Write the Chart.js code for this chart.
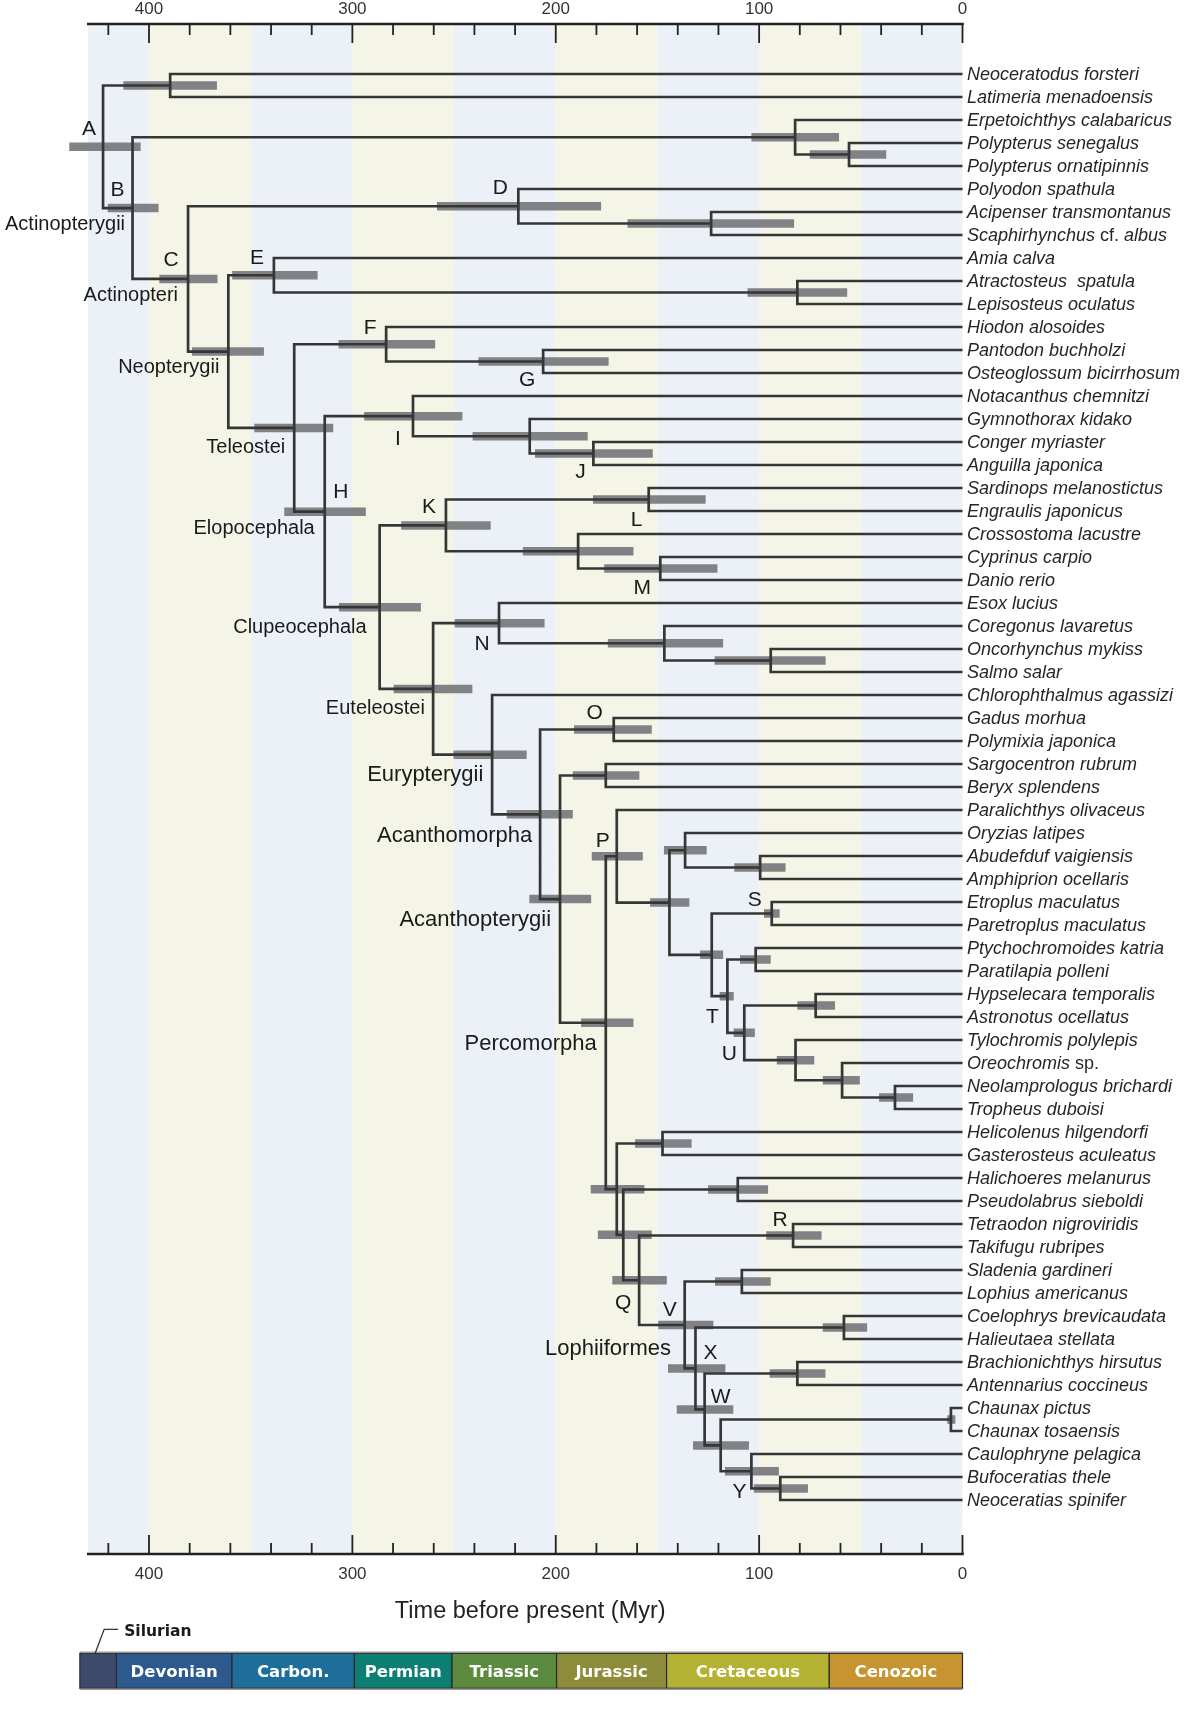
<!DOCTYPE html>
<html>
<head>
<meta charset="utf-8">
<script src="https://cdn.jsdelivr.net/npm/chart.js@4.4.1/dist/chart.umd.min.js"></script>
<style>
  html, body { margin: 0; padding: 0; background: #fff; }
  canvas { display: block; }
</style>
</head>
<body>
<canvas id="chart" width="1200" height="1718"></canvas>
<script>
// tips, top to bottom
const taxa = [
  'Neoceratodus forsteri', 'Latimeria menadoensis', 'Erpetoichthys calabaricus', 'Polypterus senegalus', 'Polypterus ornatipinnis',
  'Polyodon spathula', 'Acipenser transmontanus', 'Scaphirhynchus cf. albus', 'Amia calva', 'Atractosteus  spatula',
  'Lepisosteus oculatus', 'Hiodon alosoides', 'Pantodon buchholzi', 'Osteoglossum bicirrhosum', 'Notacanthus chemnitzi',
  'Gymnothorax kidako', 'Conger myriaster', 'Anguilla japonica', 'Sardinops melanostictus', 'Engraulis japonicus',
  'Crossostoma lacustre', 'Cyprinus carpio', 'Danio rerio', 'Esox lucius', 'Coregonus lavaretus',
  'Oncorhynchus mykiss', 'Salmo salar', 'Chlorophthalmus agassizi', 'Gadus morhua', 'Polymixia japonica',
  'Sargocentron rubrum', 'Beryx splendens', 'Paralichthys olivaceus', 'Oryzias latipes', 'Abudefduf vaigiensis',
  'Amphiprion ocellaris', 'Etroplus maculatus', 'Paretroplus maculatus', 'Ptychochromoides katria', 'Paratilapia polleni',
  'Hypselecara temporalis', 'Astronotus ocellatus', 'Tylochromis polylepis', 'Oreochromis sp.', 'Neolamprologus brichardi',
  'Tropheus duboisi', 'Helicolenus hilgendorfi', 'Gasterosteus aculeatus', 'Halichoeres melanurus', 'Pseudolabrus sieboldi',
  'Tetraodon nigroviridis', 'Takifugu rubripes', 'Sladenia gardineri', 'Lophius americanus', 'Coelophrys brevicaudata',
  'Halieutaea stellata', 'Brachionichthys hirsutus', 'Antennarius coccineus', 'Chaunax pictus', 'Chaunax tosaensis',
  'Caulophryne pelagica', 'Bufoceratias thele', 'Neoceratias spinifer'
];

// [node, child 1, child 2, age (Myr), interval old end, interval young end]
// a child is a tip index or another node
const nodes = [
  ['sarc', 0, 1, 389.6, 412.6, 366.6],
  ['poly2', 3, 4, 55.8, 75.1, 37.5],
  ['poly', 2, 'poly2', 82.3, 103.8, 60.7],
  ['acip', 6, 7, 123.6, 164.7, 82.8],
  ['D', 5, 'acip', 218.4, 258.4, 177.7],
  ['lepi', 9, 10, 81.2, 105.7, 56.7],
  ['E', 8, 'lepi', 338.6, 359.1, 317.1],
  ['G', 12, 13, 206.2, 238.0, 174.0],
  ['F', 11, 'G', 283.4, 306.8, 259.3],
  ['J', 16, 17, 181.5, 210.2, 152.3],
  ['eel', 15, 'J', 212.8, 240.9, 184.3],
  ['I', 14, 'eel', 270.2, 294.2, 245.9],
  ['L', 18, 19, 154.3, 181.7, 126.3],
  ['M', 21, 22, 148.6, 176.2, 120.5],
  ['cypr', 20, 'M', 189.0, 216.2, 161.8],
  ['K', 'L', 'cypr', 254.0, 276.0, 232.0],
  ['salm2', 25, 26, 94.3, 121.9, 67.3],
  ['salm', 24, 'salm2', 146.6, 174.4, 117.7],
  ['N', 23, 'salm', 227.9, 249.7, 205.5],
  ['O', 28, 29, 171.5, 191.0, 152.8],
  ['beryc', 30, 31, 175.4, 191.6, 158.9],
  ['pomac', 34, 35, 99.5, 112.2, 87.0],
  ['ory', 33, 'pomac', 136.4, 146.8, 125.8],
  ['S', 36, 37, 93.8, 97.6, 89.9],
  ['ptych', 38, 39, 101.7, 109.4, 94.3],
  ['cichla', 40, 41, 72.2, 81.2, 62.7],
  ['trop', 44, 45, 33.2, 41.0, 24.3],
  ['oreo', 43, 'trop', 59.2, 68.7, 50.5],
  ['tylo', 42, 'oreo', 82.1, 91.3, 72.9],
  ['U', 'cichla', 'tylo', 107.3, 112.5, 102.1],
  ['T', 'ptych', 'U', 115.6, 119.4, 112.5],
  ['cich', 'S', 'T', 123.3, 129.0, 117.7],
  ['ovalent', 'ory', 'cich', 144.1, 153.6, 134.3],
  ['P', 32, 'ovalent', 170.0, 182.3, 157.2],
  ['scorp', 46, 47, 147.5, 161.0, 133.2],
  ['labr', 48, 49, 110.5, 125.1, 95.6],
  ['R', 50, 51, 83.3, 96.5, 69.3],
  ['loph', 52, 53, 108.5, 121.7, 94.3],
  ['ogco', 54, 55, 58.3, 68.7, 46.9],
  ['anten', 56, 57, 81.2, 94.8, 67.4],
  ['chaun', 58, 59, 5.7, 7.5, 3.5],
  ['bufo', 61, 62, 89.6, 102.6, 76.0],
  ['Y', 60, 'bufo', 103.8, 116.8, 90.3],
  ['chauY', 'chaun', 'Y', 118.9, 132.5, 105.0],
  ['W', 'anten', 'chauY', 126.8, 140.5, 112.7],
  ['X', 'ogco', 'W', 131.3, 144.8, 116.6],
  ['V', 'loph', 'X', 136.6, 149.6, 122.5],
  ['Q', 'R', 'V', 159.0, 172.2, 145.4],
  ['labQ', 'labr', 'Q', 166.8, 179.3, 152.8],
  ['scoQ', 'scorp', 'labQ', 170.0, 182.8, 156.4],
  ['perco', 'P', 'scoQ', 175.4, 187.5, 161.8],
  ['acpt', 'beryc', 'perco', 197.9, 213.0, 182.6],
  ['acmo', 'O', 'acpt', 207.7, 224.1, 191.6],
  ['eury', 27, 'acmo', 231.3, 250.3, 214.3],
  ['eute', 'N', 'eury', 260.3, 279.7, 241.0],
  ['clup', 'K', 'eute', 286.6, 306.6, 266.3],
  ['H', 'I', 'clup', 313.6, 333.5, 293.4],
  ['tele', 'F', 'H', 328.6, 348.2, 309.4],
  ['neop', 'E', 'tele', 361.0, 378.9, 343.5],
  ['C', 'D', 'neop', 380.8, 394.9, 366.3],
  ['B', 'poly', 'C', 408.1, 420.3, 395.3],
  ['A', 'sarc', 'B', 422.6, 439.2, 404.1]
];

const nodeLetters = ['A', 'B', 'C', 'D', 'E', 'F', 'G', 'H', 'I', 'J', 'K', 'L', 'M',
  'N', 'O', 'P', 'Q', 'R', 'S', 'T', 'U', 'V', 'W', 'X', 'Y'];

const cladeNames = {
  B: 'Actinopterygii', C: 'Actinopteri', neop: 'Neopterygii', tele: 'Teleostei',
  H: 'Elopocephala', clup: 'Clupeocephala', eute: 'Euteleostei', eury: 'Eurypterygii',
  acmo: 'Acanthomorpha', acpt: 'Acanthopterygii', perco: 'Percomorpha', V: 'Lophiiformes'
};

const tickValues = [420, 400, 380, 360, 340, 320, 300, 280, 260, 240, 220, 200, 180, 160, 140, 120, 100, 80, 60, 40, 20, 0];
const tickLabels = [400, 300, 200, 100, 0];
const bandEdges = [430, 400, 350, 300, 250, 200, 150, 100, 50, 0];

const periods = ['Silurian', 'Devonian', 'Carbon.', 'Permian', 'Triassic', 'Jurassic', 'Cretaceous', 'Cenozoic'];
const periodStarts = [434, 416, 359.2, 299, 251, 199.6, 145.5, 65.5];

// layout and look
const letterOffset = {
  A: [-14, -19], B: [-15, -20], C: [-17, -20], D: [-18, -20], E: [-17, -19], F: [-16, -18], G: [-16, 17],
  H: [16, -21], I: [-15, 21], J: [-13, 17], K: [-17, -20], L: [-12, 19], M: [-18, 18], N: [-17, 19],
  O: [-19, -18], P: [-14, -17], Q: [-16, 21], R: [-13, -17], S: [-17, -15], T: [-15, 19], U: [-15, 20],
  V: [-15, -16], W: [16, -14], X: [15, -17], Y: [-12, 19]
};
const cladeOffset = {
  B: [-7.5, 14.4, 20], C: [-10, 15.3, 20], neop: [-9, 14.4, 20], tele: [-9, 17.6, 20],
  H: [-10, 15.6, 20], clup: [-13, 18.4, 20], eute: [-8.3, 18.4, 20], eury: [-8.8, 18.7, 22],
  acmo: [-7.8, 19.6, 22], acpt: [-9, 19.1, 22], perco: [-9.1, 19.5, 22], V: [-13.7, 21.7, 22]
};
const bandColors = ['#ecf1f7', '#f4f5e7'];
const periodColors = ['#3e4a6b', '#2c5a8e', '#1d6e9b', '#0d7e72', '#5c8a3e', '#8d8c39', '#b4b133', '#c7952f'];
const ink = '#333333';

// tree geometry
const nodeMap = {};
nodes.forEach(n => { nodeMap[n[0]] = { kids: [n[1], n[2]], age: n[3] }; });
function yOf(c) {
  if (typeof c === 'number') return c;
  const n = nodeMap[c];
  if (n.y === undefined) n.y = (yOf(n.kids[0]) + yOf(n.kids[1])) / 2;
  return n.y;
}
function ageOf(c) {
  return typeof c === 'number' ? 0 : nodeMap[c].age;
}

const branchData = [];
const barData = [];
nodes.forEach(([key, a, b, age, oldEnd, youngEnd]) => {
  branchData.push(
    { x: ageOf(a), y: yOf(a) }, { x: age, y: yOf(a) },
    { x: age, y: yOf(b) }, { x: ageOf(b), y: yOf(b) },
    { x: age, y: null }
  );
  const y = yOf(key);
  barData.push({ x: oldEnd, y: y }, { x: youngEnd, y: y }, { x: youngEnd, y: null });
});

function drawTaxon(ctx, name, x, y) {
  let cx = x;
  name.split(' ').forEach((w, k) => {
    const upright = w === 'cf.' || w === 'sp.';
    ctx.font = (upright ? '' : 'italic ') + '18px "Liberation Sans", Arial, sans-serif';
    const s = (k ? ' ' : '') + w;
    ctx.fillText(s, cx, y);
    cx += ctx.measureText(s).width;
  });
}

const decor = {
  id: 'decor',
  beforeDatasetsDraw(chart) {
    const { ctx, chartArea: area, scales: { x } } = chart;
    ctx.save();
    for (let k = 0; k < bandEdges.length - 1; k++) {
      const x0 = x.getPixelForValue(bandEdges[k]);
      const x1 = x.getPixelForValue(bandEdges[k + 1]);
      ctx.fillStyle = bandColors[k % 2];
      ctx.fillRect(x0, area.top, x1 - x0, area.bottom - area.top);
    }
    ctx.restore();
  },
  afterDatasetsDraw(chart) {
    const { ctx, chartArea: area, scales: { x, y } } = chart;
    ctx.save();

    // axes
    ctx.strokeStyle = '#222';
    ctx.lineWidth = 2.6;
    [area.top, area.bottom].forEach(ay => {
      ctx.beginPath();
      ctx.moveTo(x.getPixelForValue(430) - 1, ay);
      ctx.lineTo(x.getPixelForValue(0) + 1.3, ay);
      ctx.stroke();
    });
    ctx.lineWidth = 1.8;
    tickValues.forEach(t => {
      const px = x.getPixelForValue(t);
      const len = tickLabels.includes(t) ? 19 : 11;
      ctx.beginPath();
      ctx.moveTo(px, area.top);
      ctx.lineTo(px, area.top + len);
      ctx.moveTo(px, area.bottom);
      ctx.lineTo(px, area.bottom - len);
      ctx.stroke();
    });
    ctx.fillStyle = ink;
    ctx.font = '17px "Liberation Sans", Arial, sans-serif';
    ctx.textAlign = 'center';
    ctx.textBaseline = 'alphabetic';
    tickLabels.forEach(t => {
      const px = x.getPixelForValue(t);
      ctx.fillText(String(t), px, area.top - 10);
      ctx.fillText(String(t), px, area.bottom + 25);
    });
    ctx.font = '23.5px "Liberation Sans", Arial, sans-serif';
    ctx.fillStyle = '#222';
    ctx.fillText('Time before present (Myr)', (area.left + area.right) / 2 + 5, area.bottom + 63.5);

    // tip names
    ctx.textAlign = 'left';
    ctx.fillStyle = '#262626';
    taxa.forEach((name, i) => {
      drawTaxon(ctx, name, x.getPixelForValue(0) + 4.5, y.getPixelForValue(i) + 5.5);
    });

    // node letters
    ctx.textAlign = 'center';
    ctx.fillStyle = '#1a1a1a';
    ctx.font = '21px "Liberation Sans", Arial, sans-serif';
    nodeLetters.forEach(k => {
      const n = nodeMap[k];
      const [dx, dy] = letterOffset[k];
      ctx.fillText(k, x.getPixelForValue(n.age) + dx, y.getPixelForValue(n.y) + dy + 7.5);
    });

    // clade names
    ctx.textAlign = 'right';
    Object.keys(cladeNames).forEach(k => {
      const n = nodeMap[k];
      const [dx, dy, size] = cladeOffset[k];
      ctx.font = size + 'px "Liberation Sans", Arial, sans-serif';
      ctx.fillText(cladeNames[k], x.getPixelForValue(n.age) + dx, y.getPixelForValue(n.y) + dy + size * 0.358);
    });

    // geological time scale
    const barTop = area.bottom + 99.3;
    const barH = 35;
    ctx.textAlign = 'center';
    ctx.font = 'bold 16.5px "DejaVu Sans", sans-serif';
    periods.forEach((p, k) => {
      const x0 = x.getPixelForValue(periodStarts[k]);
      const x1 = x.getPixelForValue(k + 1 < periodStarts.length ? periodStarts[k + 1] : 0);
      ctx.fillStyle = periodColors[k];
      ctx.fillRect(x0, barTop, x1 - x0, barH);
      ctx.strokeStyle = '#2a2a2a';
      ctx.lineWidth = 1.2;
      ctx.strokeRect(x0, barTop, x1 - x0, barH);
      if (k > 0) {
        ctx.fillStyle = '#ffffff';
        ctx.fillText(p, (x0 + x1) / 2, barTop + barH / 2 + 6);
      }
    });
    ctx.strokeStyle = '#9a9a9a';
    ctx.lineWidth = 1.5;
    ctx.beginPath();
    ctx.moveTo(x.getPixelForValue(periodStarts[0]), barTop - 1);
    ctx.lineTo(x.getPixelForValue(0), barTop - 1);
    ctx.moveTo(x.getPixelForValue(periodStarts[0]), barTop + barH + 1);
    ctx.lineTo(x.getPixelForValue(0), barTop + barH + 1);
    ctx.stroke();
    // Silurian call-out
    const sx = (x.getPixelForValue(periodStarts[0]) + x.getPixelForValue(periodStarts[1])) / 2;
    ctx.strokeStyle = '#333';
    ctx.lineWidth = 1.3;
    ctx.beginPath();
    ctx.moveTo(sx - 3, barTop);
    ctx.lineTo(sx + 6, barTop - 24);
    ctx.lineTo(sx + 20, barTop - 24);
    ctx.stroke();
    ctx.fillStyle = '#1a1a1a';
    ctx.textAlign = 'left';
    ctx.font = 'bold 15.5px "DejaVu Sans", sans-serif';
    ctx.fillText(periods[0], sx + 26, barTop - 17.5);

    ctx.restore();
  }
};

new Chart(document.getElementById('chart').getContext('2d'), {
  type: 'line',
  data: {
    datasets: [
      {
        label: 'branches',
        data: branchData,
        borderColor: '#363636',
        borderWidth: 2.7,
        borderJoinStyle: 'miter',
        borderCapStyle: 'butt',
        pointRadius: 0,
        fill: false,
        clip: false,
        order: 1
      },
      {
        label: '95% intervals',
        data: barData,
        borderColor: '#818286',
        borderWidth: 8.5,
        borderCapStyle: 'butt',
        pointRadius: 0,
        fill: false,
        clip: false,
        order: 2
      }
    ]
  },
  options: {
    responsive: false,
    animation: false,
    events: [],
    layout: { padding: { left: 88, right: 237.5, top: 24, bottom: 164 } },
    scales: {
      x: { type: 'linear', min: 0, max: 430, reverse: true, display: false },
      y: { type: 'linear', min: -50 / 23, max: (1554 - 74) / 23, reverse: true, display: false }
    },
    plugins: {
      legend: { display: false },
      tooltip: { enabled: false }
    }
  },
  plugins: [decor]
});
</script>
</body>
</html>
